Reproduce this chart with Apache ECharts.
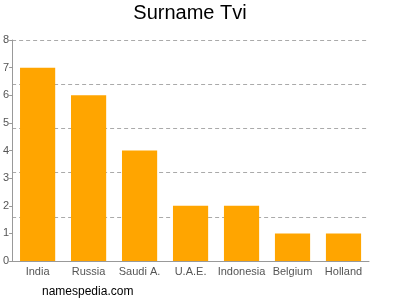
<!DOCTYPE html>
<html><head><meta charset="utf-8">
<script src="https://cdn.jsdelivr.net/npm/echarts@6/dist/echarts.min.js"></script>
<style>html,body{margin:0;padding:0;background:#fff}#c{width:400px;height:300px}</style>
</head><body><div id="c"></div>
<script>
const categories = ["India","Russia","Saudi A.","U.A.E.","Indonesia","Belgium","Holland"];
const values = [7,6,4,2,2,1,1];
const yTicks = [0,1,2,3,4,5,6,7,8];
const gridLevels = [1.6,3.2,4.8,6.4,8];

const chart = echarts.init(document.getElementById('c'), null, {renderer:'canvas'});
chart.setOption({
  animation:false,
  graphic:[
    {type:'text',x:190,y:3,style:{text:'Surname Tvi',font:'20px Liberation Sans, Arial',fill:'#000',textAlign:'center',textVerticalAlign:'top'}},
    {type:'text',left:42,top:286,style:{text:'namespedia.com',font:'12px Liberation Sans, Arial',fill:'#000'}}],
  grid:{left:12,right:31,top:40,bottom:39,containLabel:false},
  xAxis:{type:'category',data:categories,
    axisLine:{lineStyle:{color:'#999'}},
    axisTick:{alignWithLabel:true,length:4,lineStyle:{color:'#999'}},
    axisLabel:{color:'#555',fontSize:11,fontFamily:'Liberation Sans, Arial',margin:5,interval:0}},
  yAxis:[{type:'value',min:0,max:8,interval:1,
    axisLine:{show:true,lineStyle:{color:'#999'}},
    axisTick:{show:true,length:3,inside:false,lineStyle:{color:'#999'}},
    axisLabel:{color:'#555',fontSize:11,fontFamily:'Liberation Sans, Arial',margin:3,
      formatter:v=>yTicks.includes(v)?String(v):''},
    splitLine:{show:false}},
   {type:'value',min:0,max:8,interval:1.6,position:'left',
    axisLine:{show:false},axisTick:{show:false},axisLabel:{show:false},
    splitLine:{show:true,lineStyle:{color:'#aaa',type:[4,3],width:1}}}],
  series:[{type:'bar',data:values,yAxisIndex:0,barCategoryGap:'31%',
    itemStyle:{color:'#FFA500'}}]
});
</script></body></html>
